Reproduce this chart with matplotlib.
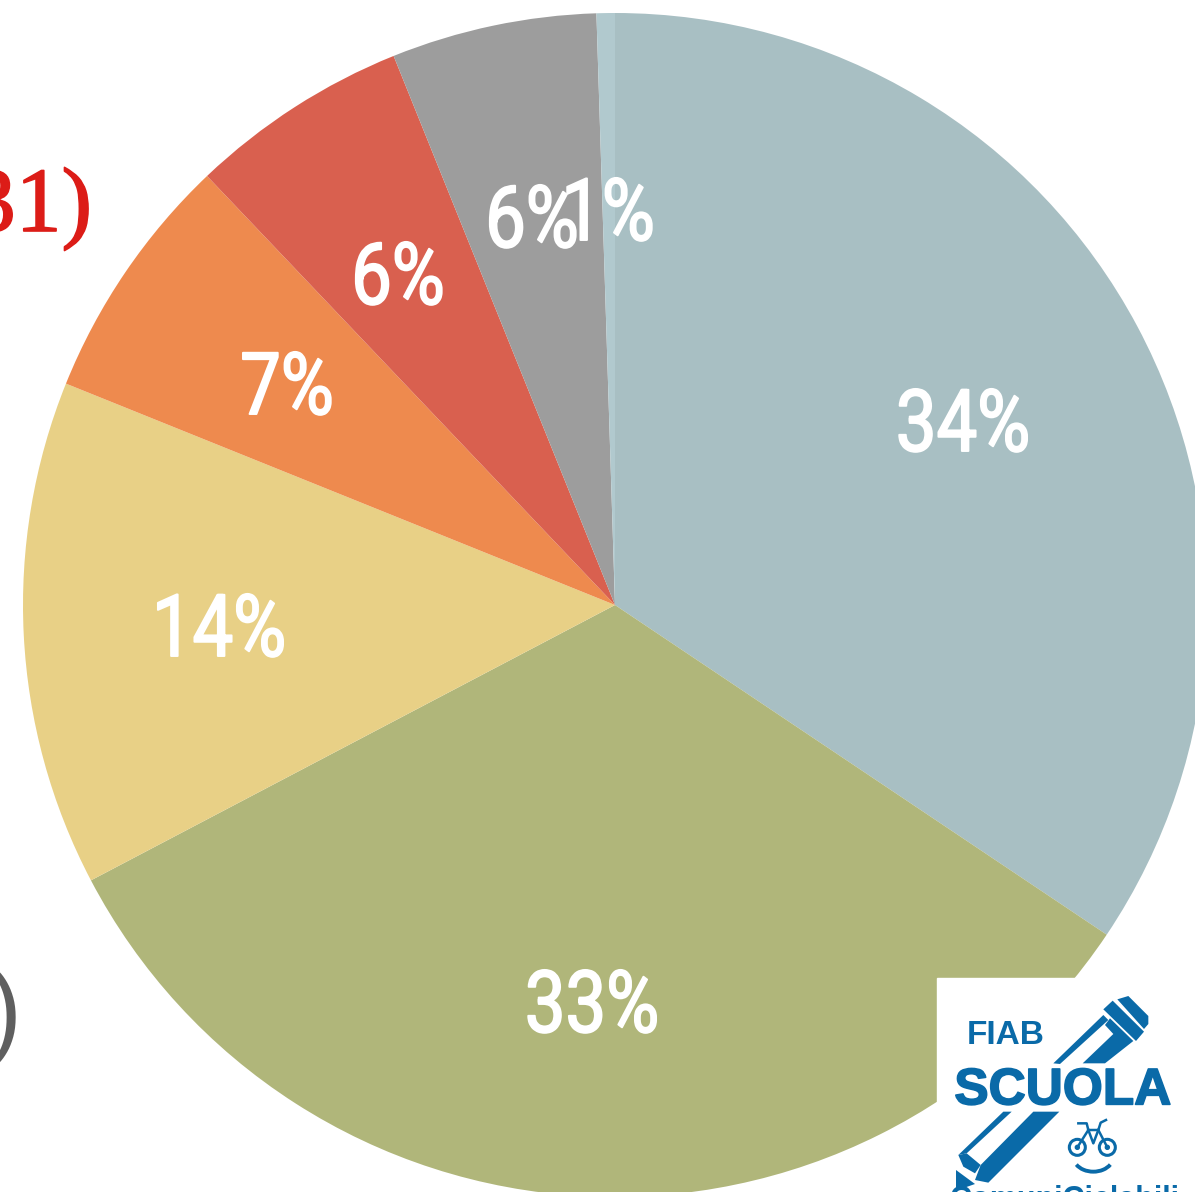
import matplotlib
matplotlib.use("Agg")
import matplotlib.pyplot as plt
from matplotlib.patches import Circle, Polygon, Rectangle, Arc
from matplotlib.patheffects import AbstractPathEffect, withStroke
from matplotlib.transforms import Affine2D

W, H = 1195, 1192

# share of each slice, clockwise from 12 o'clock
shares = [34.4, 32.9, 13.8, 6.8, 6.0, 5.6, 0.5]
colors = ["#a8bfc3", "#b0b67a", "#e8d086", "#ee8a4e", "#d9604f", "#9d9d9d", "#b1c9ce"]
labels = ["34%", "33%", "14%", "7%", "6%", "6%", "1%"]
label_x = [963, 592, 219, 287, 398, 532, 608]
label_y = [419, 1000, 624, 382, 272, 215, 208]

BLUE = "#0a6aa8"


class Narrow(AbstractPathEffect):
    # squeeze a text sideways around x and fatten it a bit (no condensed font installed)
    def __init__(self, x, factor, stroke):
        super().__init__()
        self.x = x
        self.factor = factor
        self.stroke = stroke

    def draw_path(self, renderer, gc, tpath, affine, rgbFace=None):
        squeeze = Affine2D().translate(-self.x, 0).scale(self.factor, 1).translate(self.x, 0)
        gc0 = renderer.new_gc()
        gc0.copy_properties(gc)
        gc0.set_linewidth(self.stroke)
        gc0.set_foreground(rgbFace)
        renderer.draw_path(gc0, tpath, affine + squeeze, rgbFace)
        gc0.restore()


def py(y):
    return H - y


def logo(x, y):
    # logo sketch coordinates -> canvas
    return (920 + x / 3, py(960 + y / 3))


fig = plt.figure(figsize=(W / 100, H / 100), dpi=100)
ax = fig.add_axes([0, 0, 1, 1])

ax.pie(shares, colors=colors, startangle=90, counterclock=False,
       center=(615, py(605)), radius=592)
ax.set_xlim(0, W)
ax.set_ylim(0, H)
ax.set_aspect("equal")
ax.axis("off")

for lab, x, y in zip(labels, label_x, label_y):
    ax.text(x, py(y), lab, color="white", fontsize=62, family="Roboto",
            ha="center", va="center_baseline", path_effects=[Narrow(x, 0.84, 1.4)])

# bits of the cropped titles on the left
ax.text(92, py(231), "31)", color="#dc1c17", fontsize=66, family="Liberation Serif",
        ha="right", va="baseline",
        path_effects=[withStroke(linewidth=1.2, foreground="#dc1c17")])
ax.text(22, py(1017), ")", color="#5f5f5f", fontsize=72, family="Roboto",
        ha="right", va="center")

# logo
ax.add_patch(Rectangle((937, 0), W - 937, py(978), color="white", zorder=3))

pen_parts = [
    [(592, 118), (625, 108), (685, 168), (685, 192), (672, 207)],
    [(550, 148), (578, 122), (672, 215), (648, 243)],
    [(400, 310), (550, 165), (565, 180), (420, 312)],
    [(488, 310), (580, 222), (555, 195), (570, 175), (640, 243), (555, 310)],
    [(250, 455), (275, 455), (140, 580), (115, 585)],
    [(340, 455), (418, 455), (205, 668), (165, 660), (182, 615)],
    [(115, 585), (140, 580), (182, 615), (165, 640), (130, 620)],
    [(108, 630), (165, 672), (108, 692)],
]
for part in pen_parts:
    ax.add_patch(Polygon([logo(x, y) for x, y in part], color=BLUE, lw=0, zorder=4))

ax.text(*logo(140, 252), "FIAB", color=BLUE, fontsize=24, fontweight="bold",
        family="Liberation Sans", zorder=5)
ax.text(*logo(103, 433), "SCUOLA", color=BLUE, fontsize=37, fontweight="bold",
        family="Liberation Sans", zorder=5,
        path_effects=[withStroke(linewidth=1.2, foreground=BLUE)])
ax.text(1065, py(1208), "ComuniCiclabili", color=BLUE, fontsize=22, fontweight="bold",
        family="Liberation Sans", ha="center", va="baseline", zorder=5)

# little bike with a smile
for wx in [472, 562]:
    ax.add_patch(Circle(logo(wx, 562), 8, fill=False, ec=BLUE, lw=2.2, zorder=5))
    ax.add_patch(Circle(logo(wx, 562), 2, color=BLUE, zorder=5))
frame_lines = [
    [(472, 562), (505, 510), (535, 510), (562, 562)],
    [(505, 510), (520, 550), (535, 510)],
    [(475, 490), (500, 490), (505, 510)],
    [(535, 510), (542, 488), (558, 480)],
]
for line in frame_lines:
    pts = [logo(x, y) for x, y in line]
    ax.plot([p[0] for p in pts], [p[1] for p in pts], color=BLUE, lw=1.8, zorder=5)
ax.add_patch(Arc(logo(520, 590), 40, 30, theta1=205, theta2=335, ec=BLUE, lw=2.8, zorder=5))

fig.savefig("out.png", dpi=100, facecolor="white")
